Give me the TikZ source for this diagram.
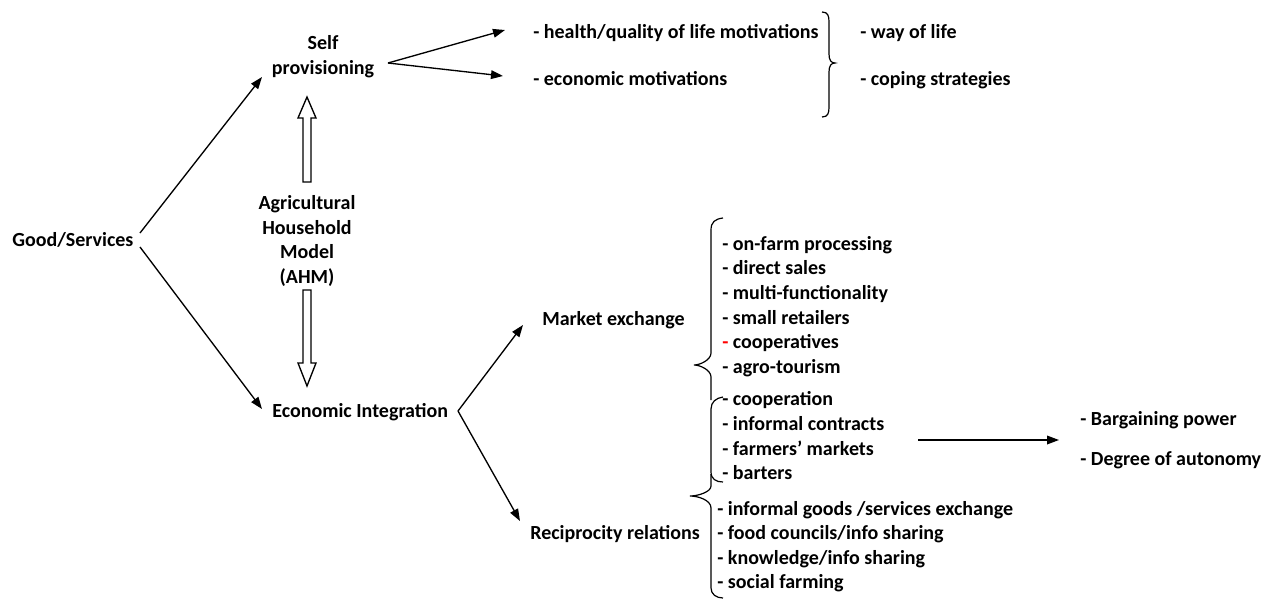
\documentclass[tikz,border=0pt]{standalone}
\usepackage{fontspec}
\setmainfont{Carlito}
\usetikzlibrary{arrows.meta}
\begin{document}
\begin{tikzpicture}[x=0.75pt,y=-0.75pt,
  txt/.style={font=\fontsize{15}{18.5}\selectfont\bfseries, inner sep=0pt, anchor=base west},
  ctxt/.style={font=\fontsize{15}{18.5}\selectfont\bfseries, inner sep=0pt, align=center, anchor=center},
  arr/.style={line width=1pt, -{Triangle[length=9pt,width=6.5pt]}},
  brace/.style={line width=0.9pt},
  hollow/.style={line width=1pt, draw=black, fill=white, line join=miter}]
\useasboundingbox (0,0) rectangle (1277,603);

% main nodes
\node[txt] (gs) at (12,246) {Good/Services};
\node[ctxt] (sp) at (323,57) {Self\\provisioning};
\node[ctxt] (ahm) at (307,241) {Agricultural\\Household\\Model\\(AHM)};
\node[txt] (ei) at (272,417) {Economic Integration};
\node[txt] (me) at (542,325) {Market exchange};
\node[txt] (rr) at (530,539) {Reciprocity relations};

% self provisioning motivations
\node[txt] (h1) at (533,38) {- health/quality of life motivations};
\node[txt] (h2) at (533,85) {- economic motivations};
\node[txt] (w1) at (860,38) {- way of life};
\node[txt] (w2) at (860,85) {- coping strategies};

% market list
\node[txt] (m1) at (722,250) {- on-farm processing};
\node[txt] (m2) at (722,274) {- direct sales};
\node[txt] (m3) at (722,299) {- multi-functionality};
\node[txt] (m4) at (722,324) {- small retailers};
\node[txt] (m5) at (722,348) {\textcolor{red}{-} cooperatives};
\node[txt] (m6) at (722,373) {- agro-tourism};
\node[txt] (c1) at (722,405) {- cooperation};
\node[txt] (c2) at (722,430) {- informal contracts};
\node[txt] (c3) at (722,455) {- farmers’ markets};
\node[txt] (c4) at (722,479) {- barters};
\node[txt] (r1) at (717,515) {- informal goods /services exchange};
\node[txt] (r2) at (717,539) {- food councils/info sharing};
\node[txt] (r3) at (717,564) {- knowledge/info sharing};
\node[txt] (r4) at (717,588) {- social farming};

\node[txt] (b1) at (1080,425) {- Bargaining power};
\node[txt] (b2) at (1080,465) {- Degree of autonomy};

% connector end points
\coordinate (gsA) at (140,233);
\coordinate (gsB) at (140,247);
\coordinate (spIn) at (262,77);
\coordinate (eiIn) at (262,409);
\coordinate (spOut) at (388,63);
\coordinate (h1In) at (505,30);
\coordinate (h2In) at (503,76);
\coordinate (eiOut) at (458,411);
\coordinate (meIn) at (523,325);
\coordinate (rrIn) at (520,521);
\coordinate (cOut) at (918,440);
\coordinate (bIn) at (1059,440);

\draw[arr] (gsA) -- (spIn);
\draw[arr] (gsB) -- (eiIn);
\draw[arr] (spOut) -- (h1In);
\draw[arr] (spOut) -- (h2In);
\draw[arr] (eiOut) -- (meIn);
\draw[arr] (eiOut) -- (rrIn);
\draw[arr] (cOut) -- (bIn);

% hollow block arrows (AHM -> Self provisioning / Economic Integration)
\draw[hollow] (303,182) -- (303,118) -- (298,118) -- (307,97) -- (316,118) -- (311,118) -- (311,182) -- cycle;
\draw[hollow] (303,290) -- (303,363) -- (298,363) -- (307,386) -- (316,363) -- (311,363) -- (311,290) -- cycle;

% right brace
\draw[brace] (822,12) .. controls (828,12) and (829,16) .. (829,22) -- (829,54)
  .. controls (829,60) and (831,63) .. (835,63)
  .. controls (831,63) and (829,66) .. (829,72) -- (829,107)
  .. controls (829,113) and (828,117) .. (822,117);

% market exchange brace
\draw[brace] (723,218) .. controls (715,219) and (711,222) .. (711,230) -- (711,353)
  .. controls (711,360) and (700,365) .. (694,365)
  .. controls (700,365) and (711,370) .. (711,377) -- (711,400);
% cooperation brace
\draw[brace] (723,397) .. controls (716,398) and (711,402) .. (711,409) -- (711,472)
  .. controls (711,479) and (716,482) .. (723,482);
% reciprocity brace
\draw[brace] (711,474) -- (711,486) .. controls (711,492) and (698,496) .. (690,496)
  .. controls (698,496) and (711,500) .. (711,508) -- (711,588)
  .. controls (711,594) and (716,598) .. (723,598);
\end{tikzpicture}
\end{document}
